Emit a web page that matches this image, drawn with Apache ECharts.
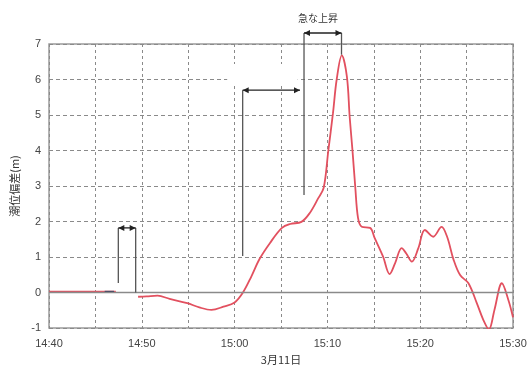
<!DOCTYPE html>
<html>
<head>
<meta charset="utf-8">
<script src="https://cdn.jsdelivr.net/npm/echarts@6/dist/echarts.min.js"></script>
<style>
  html, body { margin: 0; padding: 0; background: #fff; }
  #chart { width: 529px; height: 367px; }
</style>
</head>
<body>
<div id="chart"></div>
<script>
// Tide deviation on March 11, time in minutes after 14:40
const startHour = 14, startMinute = 40;
const xTicks = [0, 10, 20, 30, 40, 50];
const yTicks = [-1, 0, 1, 2, 3, 4, 5, 6, 7];

// Record before the interruption
const minutesA = [0, 2, 4, 6, 7.2];
const levelA   = [0.02, 0.02, 0.02, 0.02, 0.02];

// Short dark stretch at the end of the first record
const minutesDark = [6.0, 7.0];
const levelDark   = [0.02, 0.02];

// Record after the interruption
const minutesB = [9.6, 10.5, 11.7, 13.0, 14.9, 16.2, 17.5, 18.8, 20.0, 20.9, 21.8, 22.7,
  23.8, 25.1, 26.0, 27.2, 28.1, 29.0, 29.6, 30.1, 30.6, 31.0, 31.55, 32.1, 32.4, 32.7,
  33.0, 33.3, 33.7, 34.6, 35.1, 36.0, 36.7, 37.3, 38.0, 38.5, 39.1, 39.8, 40.5, 41.4,
  42.3, 42.9, 43.6, 44.3, 45.2, 46.1, 46.8, 47.4, 48.0, 48.8, 49.5, 50.0];
const levelB = [-0.12, -0.11, -0.09, -0.18, -0.30, -0.42, -0.49, -0.40, -0.28, 0.00, 0.45, 0.95,
  1.39, 1.82, 1.93, 1.99, 2.24, 2.65, 2.95, 4.00, 5.05, 6.00, 6.68, 6.08, 4.95, 4.01,
  2.98, 2.10, 1.85, 1.82, 1.53, 1.01, 0.52, 0.83, 1.25, 1.10, 0.87, 1.25, 1.76, 1.57,
  1.85, 1.57, 0.92, 0.49, 0.26, -0.30, -0.77, -1.04, -0.49, 0.26, -0.21, -0.70];

// Bracket annotations: [x1, y1, x2, y2] in minutes / metres
const bracketUprights = [
  [7.47, 0.27, 7.47, 1.82],
  [9.34, 1.82, 9.34, 0.0],
  [20.87, 1.03, 20.87, 5.70],
  [27.48, 2.75, 27.48, 7.31],
  [31.52, 7.31, 31.52, 6.70]
];
const bracketArrows = [
  [7.47, 1.82, 9.34, 1.82],
  [20.87, 5.70, 27.05, 5.70],
  [27.48, 7.31, 31.52, 7.31]
];
const bracketLabel = { text: '急な上昇', x: 29.0, y: 7.31 };
// Blank patch behind the middle bracket
const blankPatch = [[19.2, 5.87], [26.8, 6.44]];

const zip = (xs, ys) => xs.map((x, i) => [x, ys[i]]);

function timeLabel(v) {
  const total = startHour * 60 + startMinute + v;
  const h = Math.floor(total / 60), m = total % 60;
  return h + ':' + String(m).padStart(2, '0');
}

const gridColor = '#8a8a8a';
const chart = echarts.init(document.getElementById('chart'), null, { renderer: 'canvas' });

chart.setOption({
  animation: false,
  backgroundColor: '#fff',
  grid: {
    left: 49, right: 16, top: 44, bottom: 39,
    outerBoundsMode: 'none',
    containLabel: false,
    show: true, borderColor: '#9a9a9a', borderWidth: 1.5
  },
  xAxis: {
    type: 'value',
    min: xTicks[0], max: xTicks[xTicks.length - 1], interval: 5,
    name: '3月11日',
    nameLocation: 'middle',
    nameGap: 20,
    nameTextStyle: { fontFamily: 'Noto Sans CJK JP', fontSize: 11, color: '#333' },
    axisLine: { show: false },
    axisTick: { show: false },
    axisLabel: {
      margin: 10,
      fontFamily: 'Liberation Sans', fontSize: 11, color: '#444',
      formatter: v => (xTicks.indexOf(v) >= 0 ? timeLabel(v) : '')
    },
    splitLine: { show: true, lineStyle: { color: gridColor, type: [3, 3], width: 1 } }
  },
  yAxis: {
    type: 'value',
    min: yTicks[0], max: yTicks[yTicks.length - 1], interval: 1,
    name: '潮位偏差(m)',
    nameLocation: 'middle',
    nameGap: 28,
    nameRotate: 90,
    nameTextStyle: { fontFamily: 'Noto Sans CJK JP', fontSize: 11, color: '#333' },
    axisLine: { show: false },
    axisTick: { show: false },
    axisLabel: { margin: 8, fontFamily: 'Liberation Sans', fontSize: 11, color: '#444' },
    splitLine: { show: true, lineStyle: { color: gridColor, type: [4, 3], width: 1 } }
  },
  series: [
    {
      // zero line and blank patch
      type: 'line',
      data: [],
      silent: true,
      markArea: {
        silent: true,
        itemStyle: { color: '#fff' },
        data: [[{ coord: blankPatch[0] }, { coord: blankPatch[1] }]]
      },
      markLine: {
        silent: true,
        symbol: 'none',
        label: { show: false },
        data: [
          [{ coord: [xTicks[0], 0], lineStyle: { color: '#8a8a8a', type: 'solid', width: 1.3 } },
           { coord: [xTicks[xTicks.length - 1], 0] }]
        ]
      }
    },
    {
      type: 'line',
      data: zip(minutesA, levelA),
      showSymbol: false,
      lineStyle: { color: '#e2505f', width: 2 },
      z: 3
    },
    {
      type: 'line',
      data: zip(minutesDark, levelDark),
      showSymbol: false,
      lineStyle: { color: '#3a3a5a', width: 2 },
      z: 4
    },
    {
      type: 'line',
      data: zip(minutesB, levelB),
      smooth: 0.35,
      showSymbol: false,
      lineStyle: { color: '#e2505f', width: 1.8 },
      z: 3
    }
  ]
});

// Brackets reach above the plot area, so they are drawn as graphics
// placed through the chart's own coordinate conversion.
const toPx = (x, y) => chart.convertToPixel({ gridIndex: 0 }, [x, y]);
const graphics = [];
bracketUprights.forEach(b => {
  const p1 = toPx(b[0], b[1]), p2 = toPx(b[2], b[3]);
  graphics.push({
    type: 'line', z: 100,
    shape: { x1: p1[0], y1: p1[1], x2: p2[0], y2: p2[1] },
    style: { stroke: '#555', lineWidth: 1.3 }
  });
});
const head = (tip, dir) => {
  const len = 6, half = 3;
  return {
    type: 'polygon', z: 101,
    shape: { points: [tip, [tip[0] - dir * len, tip[1] - half], [tip[0] - dir * len, tip[1] + half]] },
    style: { fill: '#222' }
  };
};
bracketArrows.forEach(b => {
  const p1 = toPx(b[0], b[1]), p2 = toPx(b[2], b[3]);
  graphics.push({
    type: 'line', z: 101,
    shape: { x1: p1[0], y1: p1[1], x2: p2[0], y2: p2[1] },
    style: { stroke: '#222', lineWidth: 1.3 }
  });
  graphics.push(head(p1, -1), head(p2, 1));
});
const lp = toPx(bracketLabel.x, bracketLabel.y);
graphics.push({
  type: 'text', z: 101,
  x: lp[0], y: lp[1] - 10,
  style: {
    text: bracketLabel.text, align: 'center', verticalAlign: 'bottom',
    fontFamily: 'Noto Sans CJK JP', fontSize: 10, fill: '#333'
  }
});
chart.setOption({ graphic: graphics });
</script>
</body>
</html>
